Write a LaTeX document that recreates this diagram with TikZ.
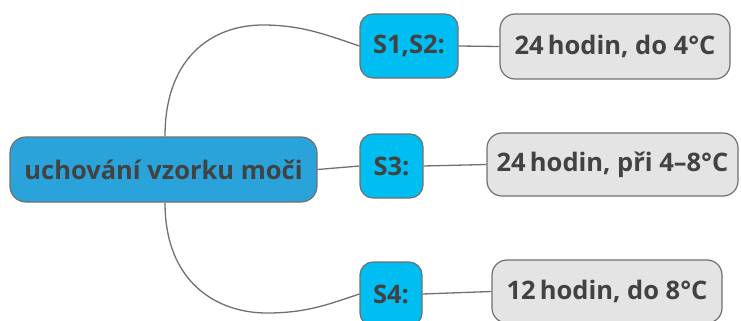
\documentclass[tikz,border=0pt]{standalone}
\usepackage{fontspec}
\setmainfont{Open Sans}
\definecolor{rootfill}{HTML}{2AA3DA}
\definecolor{sfill}{HTML}{00BEF2}
\definecolor{vfill}{HTML}{E4E4E4}
\definecolor{edge}{HTML}{707070}
\definecolor{txt}{HTML}{424242}
\tikzset{
  base/.style={draw=edge, line width=1.2pt, text=txt, font=\bfseries\fontsize{25.5}{28}\selectfont, inner sep=0pt, align=center},
  rootbox/.style={base, fill=rootfill, rounded corners=16pt},
  sbox/.style={base, fill=sfill, rounded corners=13pt},
  vbox/.style={base, fill=vfill, rounded corners=15pt},
  conn/.style={draw=edge, line width=1.3pt}
}
\begin{document}
\begin{tikzpicture}[x=1pt,y=-1pt]
\useasboundingbox (0,0) rectangle (741,321);
\node[rootbox, minimum width=307pt, minimum height=65pt] (root) at (163.5,169.5) {uchování vzorku moči};
\node[sbox, minimum width=98pt, minimum height=64pt] (s12) at (409,46) {S1,S2:};
\node[vbox, minimum width=230pt, minimum height=65pt] (v1) at (615,46.5) {24\,hodin, do 4°C};
\node[sbox, minimum width=63pt, minimum height=64pt] (s3) at (391.5,166) {S3:};
\node[vbox, minimum width=251pt, minimum height=63pt] (v2) at (612.5,164.5) {24\,hodin, při 4–8°C};
\node[sbox, minimum width=62pt, minimum height=64pt] (s4) at (391,294) {S4:};
\node[vbox, minimum width=230pt, minimum height=63pt] (v3) at (607,291.5) {12\,hodin, do 8°C};
\coordinate (ctop) at (263,25);
\coordinate (cbot) at (267,313);
\draw[conn] ([xshift=1.5pt]root.north) .. controls +(0,-80) and +(-50,0) .. (ctop) .. controls +(40,0) and +(-30,-10) .. (s12.west);
\draw[conn] ([xshift=1.5pt]root.south) .. controls +(0,80) and +(-50,0) .. (cbot) .. controls +(40,0) and +(-30,10) .. (s4.west);
\draw[conn] (root.east) -- (s3.west);
\draw[conn] (s12.east) -- (v1.west);
\draw[conn] (s3.east) -- (v2.west);
\draw[conn] (s4.east) -- (v3.west);
\end{tikzpicture}
\end{document}
